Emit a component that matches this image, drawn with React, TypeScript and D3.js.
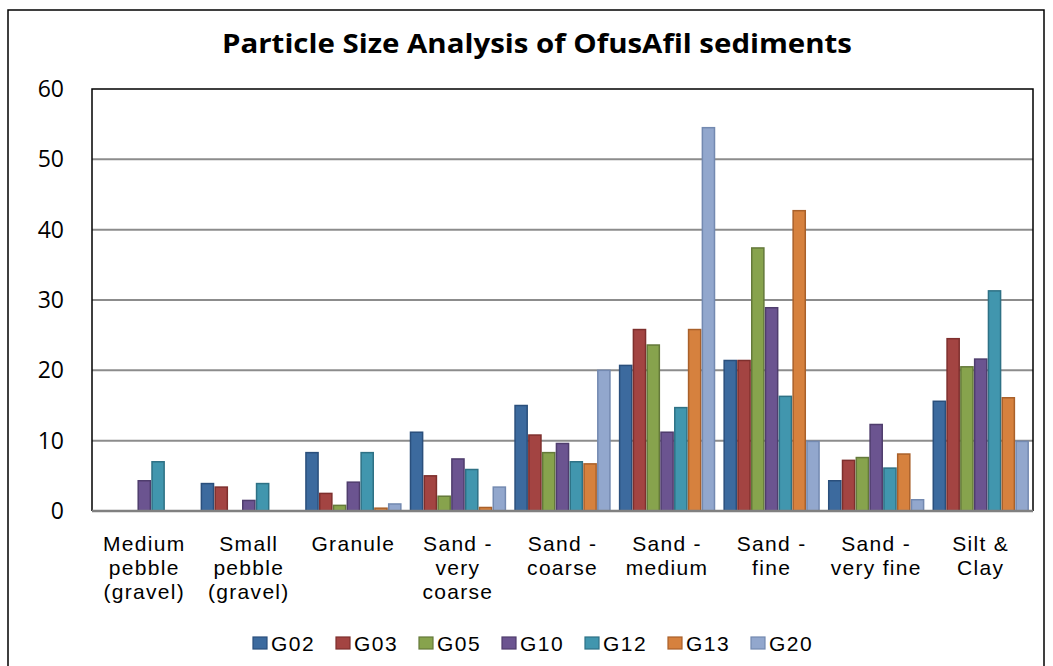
import React from "react";
import * as d3 from "d3";

const categories = [
  ["Medium", "pebble", "(gravel)"],
  ["Small", "pebble", "(gravel)"],
  ["Granule"],
  ["Sand -", "very", "coarse"],
  ["Sand -", "coarse"],
  ["Sand -", "medium"],
  ["Sand -", "fine"],
  ["Sand -", "very fine"],
  ["Silt &", "Clay"],
];

const seriesNames = ["G02", "G03", "G05", "G10", "G12", "G13", "G20"];

const G02 = [0, 3.9, 8.3, 11.2, 15.0, 20.7, 21.4, 4.3, 15.6];
const G03 = [0, 3.4, 2.5, 5.0, 10.8, 25.8, 21.4, 7.2, 24.5];
const G05 = [0, 0, 0.8, 2.1, 8.3, 23.6, 37.4, 7.6, 20.5];
const G10 = [4.3, 1.5, 4.1, 7.4, 9.6, 11.2, 28.9, 12.3, 21.6];
const G12 = [7.0, 3.9, 8.3, 5.9, 7.0, 14.7, 16.3, 6.1, 31.3];
const G13 = [0, 0, 0.4, 0.5, 6.7, 25.8, 42.7, 8.1, 16.1];
const G20 = [0, 0, 1.0, 3.4, 20.0, 54.5, 9.9, 1.6, 9.9];

const seriesValues = [G02, G03, G05, G10, G12, G13, G20];
const yTicks = [0, 10, 20, 30, 40, 50, 60];

const fills = ["#3C6A9E", "#A34442", "#87A34D", "#6B5490", "#4196AE", "#D6813E", "#92A7CD"];
const strokes = ["#2A4F7C", "#7E2F2D", "#64793A", "#4F3D6D", "#2E7185", "#A9602A", "#7389B0"];

export default function App() {
  const W = 1053;
  const H = 666;
  const left = 92, right = 1033, top = 89, bottom = 511;

  const x0 = d3
    .scaleBand<number>()
    .domain(categories.map((_, i) => i))
    .range([left, right])
    .padding(0);
  const x1 = d3
    .scaleBand<string>()
    .domain(seriesNames)
    .range([0, x0.bandwidth()])
    .paddingInner(0.12)
    .paddingOuter(0.35);
  const y = d3.scaleLinear().domain([0, 60]).range([bottom, top]);

  const legendX = d3.scalePoint<string>().domain(seriesNames).range([253, 751]);

  return (
    <svg
      width={W}
      height={H}
      style={{ position: "absolute", left: 0, top: 0, background: "#fff" }}
    >
      <rect x={0} y={0} width={W} height={H} fill="#fff" />
      {/* outer frame */}
      <rect x={8} y={10} width={1036} height={680} fill="none" stroke="#000" strokeWidth={1.5} />

      <text
        x={537}
        y={53}
        textAnchor="middle"
        fontFamily="'Open Sans', 'Liberation Sans', sans-serif"
        fontWeight="bold"
        fontSize={27}
        textLength={630}
        lengthAdjust="spacingAndGlyphs"
      >
        Particle Size Analysis of OfusAfil sediments
      </text>

      {/* grid */}
      {yTicks.filter((t) => t > 0 && t < 60).map((t) => (
        <line key={t} x1={left} x2={right} y1={y(t)} y2={y(t)} stroke="#8c8c8c" strokeWidth={2} />
      ))}

      {/* y labels */}
      {yTicks.map((t) => (
        <text
          key={t}
          x={64}
          y={y(t)}
          dy="0.35em"
          textAnchor="end"
          fontFamily="'Open Sans', sans-serif"
          fontSize={23}
        >
          {t}
        </text>
      ))}

      {/* bars */}
      {seriesValues.map((vals, s) =>
        vals.map((v, i) =>
          v > 0 ? (
            <rect
              key={`${s}-${i}`}
              x={(x0(i) as number) + (x1(seriesNames[s]) as number)}
              y={y(v)}
              width={x1.bandwidth()}
              height={y(0) - y(v)}
              fill={fills[s]}
              stroke={strokes[s]}
              strokeWidth={1.5}
            />
          ) : null
        )
      )}

      {/* plot border */}
      <path
        d={`M${left},${bottom} V${top} H${right} V${bottom}`}
        fill="none"
        stroke="#000"
        strokeWidth={1.5}
      />
      <line x1={left} x2={right} y1={bottom} y2={bottom} stroke="#808080" strokeWidth={2.5} />

      {/* x labels */}
      {categories.map((lines, i) => (
        <text
          key={i}
          x={(x0(i) as number) + x0.bandwidth() / 2}
          y={551}
          textAnchor="middle"
          fontFamily="'Liberation Sans', Arial, sans-serif"
          fontSize={21}
          letterSpacing={1.3}
        >
          {lines.map((l, k) => (
            <tspan key={k} x={(x0(i) as number) + x0.bandwidth() / 2} dy={k === 0 ? 0 : 24}>
              {l}
            </tspan>
          ))}
        </text>
      ))}

      {/* legend */}
      {seriesNames.map((n, s) => (
        <g key={n} transform={`translate(${legendX(n)},643)`}>
          <rect x={0} y={-6} width={14} height={12} fill={fills[s]} stroke={strokes[s]} strokeWidth={1.2} />
          <text
            x={18}
            y={0}
            dy="0.36em"
            fontFamily="'Liberation Sans', Arial, sans-serif"
            fontSize={21}
            letterSpacing={1.5}
          >
            {n}
          </text>
        </g>
      ))}
    </svg>
  );
}
